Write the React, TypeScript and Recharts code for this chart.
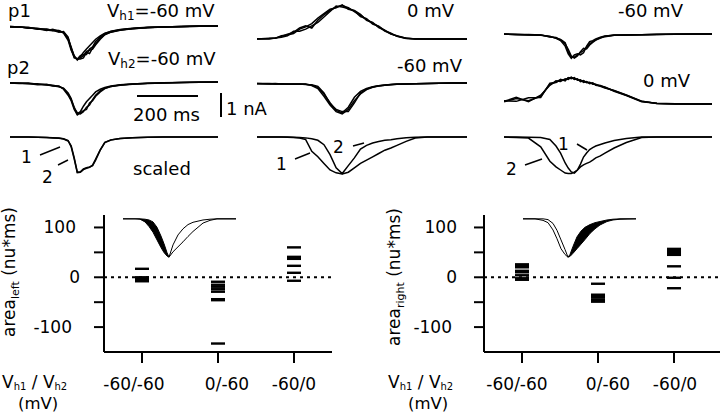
import React from 'react';
import { LineChart, Line, XAxis, YAxis, ScatterChart, Scatter, ReferenceLine, ComposedChart, Area } from 'recharts';

const FONT = '"DejaVu Sans", "Liberation Sans", sans-serif';

// ---------- top traces (time in ms, current in nA) ----------
const tLeft = [0, 30, 60, 90, 120, 140, 160, 175, 190, 200, 210, 220, 230, 240, 250, 260, 270, 280, 295, 310, 330, 360, 400, 450, 500, 560, 620, 680];
const p1LeftA = [-0.02, -0.05, -0.08, -0.12, -0.2, -0.15, -0.25, -0.28, -0.6, -1.0, -1.35, -1.55, -1.4, -1.2, -1.05, -0.9, -0.75, -0.6, -0.45, -0.33, -0.25, -0.17, -0.12, -0.07, -0.05, -0.02, 0, 0];
const p1LeftB = [-0.04, -0.03, -0.1, -0.1, -0.18, -0.22, -0.2, -0.3, -0.55, -0.95, -1.4, -1.5, -1.5, -1.45, -1.2, -1.25, -1.0, -0.8, -0.55, -0.38, -0.27, -0.18, -0.11, -0.07, -0.04, -0.02, -0.01, 0];
const p1LeftC = [-0.03, -0.06, -0.06, -0.15, -0.14, -0.2, -0.28, -0.25, -0.5, -1.05, -1.45, -1.5, -1.35, -1.3, -1.3, -1.05, -0.95, -0.7, -0.5, -0.35, -0.24, -0.16, -0.1, -0.06, -0.04, -0.02, 0, 0];
const p1LeftD = [-0.02, -0.04, -0.09, -0.13, -0.16, -0.18, -0.22, -0.32, -0.65, -1.1, -1.4, -1.52, -1.45, -1.35, -1.15, -1.1, -1.05, -0.85, -0.6, -0.4, -0.28, -0.19, -0.12, -0.08, -0.05, -0.03, -0.01, 0];
const p2LeftA = [-0.03, -0.06, -0.05, -0.1, -0.12, -0.15, -0.2, -0.3, -0.55, -0.8, -1.15, -1.45, -1.35, -1.1, -0.9, -0.75, -0.6, -0.45, -0.33, -0.25, -0.18, -0.13, -0.09, -0.06, -0.04, -0.02, -0.01, 0];
const p2LeftB = [-0.05, -0.04, -0.08, -0.08, -0.14, -0.17, -0.22, -0.28, -0.5, -0.75, -1.2, -1.4, -1.45, -1.35, -1.15, -1.05, -0.8, -0.6, -0.4, -0.28, -0.2, -0.14, -0.09, -0.06, -0.03, -0.02, 0, 0];
const p2LeftC = [-0.04, -0.07, -0.07, -0.12, -0.1, -0.18, -0.18, -0.33, -0.6, -0.85, -1.25, -1.5, -1.4, -1.3, -1.25, -0.95, -0.85, -0.65, -0.45, -0.3, -0.21, -0.15, -0.1, -0.07, -0.04, -0.02, -0.01, 0];
const scaledLeft1 = [0, 0, 0, -0.01, -0.02, -0.04, -0.06, -0.09, -0.18, -0.4, -0.95, -1.6, -1.58, -1.45, -1.4, -1.36, -1.3, -1.05, -0.6, -0.25, -0.14, -0.07, -0.03, -0.01, 0, 0, 0, 0];
const scaledLeft2 = [0, 0, 0, -0.01, -0.02, -0.03, -0.05, -0.08, -0.16, -0.45, -1.0, -1.62, -1.6, -1.48, -1.42, -1.38, -1.28, -1.0, -0.58, -0.24, -0.13, -0.07, -0.03, -0.01, 0, 0, 0, 0];

const tCenter = [0, 40, 60, 80, 100, 120, 140, 160, 180, 200, 220, 240, 260, 280, 300, 320, 340, 360, 380, 400, 420, 440, 460, 490, 520, 560, 600, 640, 690];
const p1CenterA = [0, 0.02, 0.05, 0.12, 0.22, 0.3, 0.5, 0.6, 0.5, 0.85, 1.1, 1.3, 1.45, 1.52, 1.42, 1.25, 1.08, 0.88, 0.72, 0.56, 0.36, 0.24, 0.13, 0.03, 0, 0, 0, 0, 0];
const p1CenterB = [0.01, 0, 0.04, 0.08, 0.15, 0.35, 0.35, 0.45, 0.6, 0.75, 1.0, 1.25, 1.5, 1.45, 1.38, 1.28, 1.02, 0.92, 0.68, 0.58, 0.38, 0.26, 0.12, 0.02, 0.01, 0, 0, 0, 0];
const p1CenterC = [0, 0.03, 0.03, 0.15, 0.18, 0.25, 0.45, 0.55, 0.7, 0.95, 1.15, 1.35, 1.42, 1.55, 1.35, 1.3, 1.12, 0.85, 0.75, 0.52, 0.4, 0.22, 0.15, 0.04, 0, 0, 0, 0, 0];
const p2CenterA = [-0.02, -0.03, -0.02, -0.04, -0.05, -0.04, -0.06, -0.05, -0.1, -0.2, -0.5, -0.9, -1.25, -1.36, -1.1, -0.65, -0.38, -0.25, -0.17, -0.12, -0.09, -0.07, -0.05, -0.04, -0.03, -0.02, -0.01, 0, 0];
const p2CenterB = [-0.03, -0.02, -0.04, -0.03, -0.06, -0.05, -0.04, -0.07, -0.08, -0.15, -0.45, -0.95, -1.2, -1.3, -1.3, -0.9, -0.45, -0.28, -0.18, -0.13, -0.1, -0.07, -0.06, -0.04, -0.03, -0.02, -0.01, 0, 0];
const p2CenterC = [-0.02, -0.04, -0.03, -0.05, -0.04, -0.06, -0.05, -0.06, -0.12, -0.25, -0.6, -1.0, -1.3, -1.4, -1.2, -0.8, -0.5, -0.3, -0.19, -0.14, -0.1, -0.08, -0.06, -0.04, -0.03, -0.02, -0.01, 0, 0];
const scaledCenter1 = [0, 0, 0, 0, -0.01, -0.02, -0.05, -0.12, -0.65, -0.9, -1.2, -1.5, -1.63, -1.68, -1.6, -1.4, -1.2, -1.05, -0.9, -0.75, -0.6, -0.5, -0.38, -0.2, -0.05, 0, 0, 0, 0];
const scaledCenter2 = [0, 0, 0, 0, 0, -0.01, -0.02, -0.04, -0.08, -0.15, -0.35, -0.8, -1.4, -1.66, -1.3, -0.95, -0.55, -0.38, -0.27, -0.2, -0.15, -0.12, -0.08, -0.03, -0.01, 0, 0, 0, 0];

const tRight = [0, 40, 80, 120, 150, 170, 185, 200, 210, 220, 230, 240, 250, 260, 270, 280, 290, 300, 315, 330, 360, 400, 450, 500, 560, 620, 680];
const p1RightA = [0, -0.02, -0.03, -0.05, -0.12, -0.18, -0.25, -0.4, -0.8, -1.05, -1.05, -0.95, -0.85, -0.75, -0.6, -0.45, -0.35, -0.27, -0.17, -0.1, -0.05, -0.05, -0.03, -0.02, -0.01, 0, 0];
const p1RightB = [-0.01, -0.01, -0.04, -0.06, -0.1, -0.2, -0.3, -0.55, -0.9, -1.1, -0.95, -0.9, -0.95, -0.85, -0.55, -0.35, -0.3, -0.22, -0.15, -0.09, -0.06, -0.04, -0.03, -0.02, 0, 0, 0];
const p1RightC = [0, -0.03, -0.02, -0.04, -0.14, -0.16, -0.28, -0.45, -0.7, -1.0, -1.1, -1.0, -0.8, -0.65, -0.68, -0.5, -0.38, -0.28, -0.18, -0.12, -0.06, -0.04, -0.03, -0.01, -0.01, 0, 0];
const p2RightA = [0.1, 0.25, 0.15, 0.35, 0.9, 1.0, 1.08, 1.1, 1.18, 1.2, 1.15, 1.12, 1.05, 1.03, 1.0, 0.96, 0.94, 0.88, 0.84, 0.75, 0.6, 0.4, 0.12, 0.02, 0, 0, 0];
const p2RightB = [0.15, 0.12, 0.28, 0.3, 0.95, 0.98, 1.12, 1.05, 1.2, 1.15, 1.2, 1.08, 1.1, 0.98, 1.02, 0.92, 0.96, 0.85, 0.82, 0.77, 0.58, 0.38, 0.1, 0.03, 0.01, 0, 0];
const p2RightC = [0.12, 0.3, 0.1, 0.4, 0.85, 1.05, 1.02, 1.15, 1.12, 1.22, 1.12, 1.15, 1.02, 1.06, 0.97, 0.99, 0.9, 0.9, 0.8, 0.73, 0.62, 0.41, 0.13, 0.02, 0, 0, 0];
const scaledRightWide = [0, -0.02, -0.05, -0.45, -1.1, -1.36, -1.5, -1.64, -1.66, -1.66, -1.6, -1.5, -1.36, -1.27, -1.2, -1.14, -1.05, -0.95, -0.86, -0.73, -0.5, -0.25, -0.02, 0, 0, 0, 0];
const scaledRightNarrow = [0, 0, -0.01, -0.02, -0.11, -0.41, -0.73, -1.18, -1.41, -1.59, -1.64, -1.5, -1.23, -0.91, -0.73, -0.57, -0.48, -0.41, -0.34, -0.27, -0.16, -0.07, 0, 0, 0, 0, 0];

// ---------- insets (normalised) ----------
const insetLeftT = [0, 12, 17, 22, 26, 30, 34, 38, 41, 44, 46, 50, 55, 60, 65, 70, 75, 80, 87, 94, 100, 113];
const insetLeftWide = [0, 0, -0.01, -0.08, -0.2, -0.35, -0.55, -0.75, -0.88, -0.97, -1.0, -0.86, -0.73, -0.6, -0.46, -0.33, -0.22, -0.11, -0.04, 0, 0, 0];
const insetLeftNarrow = [0, 0, 0, -0.01, -0.03, -0.08, -0.22, -0.45, -0.65, -0.88, -1.0, -0.68, -0.42, -0.26, -0.15, -0.09, -0.06, -0.03, -0.01, 0, 0, 0];
const insetRightT = [0, 12, 20, 25, 30, 34, 38, 42, 45, 47, 50, 54, 58, 62, 67, 72, 77, 84, 90, 97, 113];
const insetRightWide = [0, 0, -0.04, -0.1, -0.29, -0.52, -0.78, -0.93, -1.0, -0.98, -0.9, -0.78, -0.66, -0.54, -0.38, -0.26, -0.16, -0.07, -0.03, -0.01, 0];
const insetRightNarrow = [0, 0, 0, -0.02, -0.12, -0.3, -0.55, -0.8, -1.0, -0.93, -0.72, -0.47, -0.32, -0.22, -0.15, -0.1, -0.07, -0.03, -0.01, 0, 0];

// ---------- bottom scatter (area, nu*ms) ----------
const categories = ['-60/-60', '0/-60', '-60/0'];
const areaLeft6060 = [17, 0, -2, -4, -6, -8];
const areaLeft060 = [-9, -15, -19, -24, -29, -44, -46, -133];
const areaLeft600 = [60, 41, 37, 23, 9, -7];
const areaRight6060 = [26, 23, 20, 13, 10, 4, -2, -5];
const areaRight060 = [-13, -35, -38, -41, -46, -49];
const areaRight600 = [57, 53, 49, 45, 22, -1, -22];
const yTicks = [-100, -50, 0, 50, 100];
const yTickLabels = [-100, 0, 100];

const toRows = (t: number[], series: number[][]) =>
  t.map((tt, i) => {
    const r: Record<string, number> = { t: tt };
    series.forEach((s, k) => {
      r['s' + k] = s[i];
    });
    return r;
  });

function TracePanel({ left, baseline, width, tMax, t, series, sw = 1.5 }: any) {
  return (
    <div style={{ position: 'absolute', left, top: baseline - 44, width, height: 88 }}>
      <LineChart width={width} height={88} data={toRows(t, series)} margin={{ top: 0, right: 0, bottom: 0, left: 0 }}>
        <XAxis dataKey="t" type="number" domain={[0, tMax]} hide />
        <YAxis type="number" domain={[-2, 2]} hide />
        {series.map((_: number[], k: number) => (
          <Line key={k} dataKey={'s' + k} stroke="#000" strokeWidth={sw} dot={false} isAnimationActive={false} />
        ))}
      </LineChart>
    </div>
  );
}

function Inset({ left, t, wide, narrow, side }: any) {
  const minIdx = wide.indexOf(Math.min(...wide));
  const data = t.map((tt: number, i: number) => ({
    t: tt,
    w: wide[i],
    n: narrow[i],
    band: (side === 'left' ? i <= minIdx : i >= minIdx) ? [Math.min(wide[i], narrow[i]), Math.max(wide[i], narrow[i])] : null,
  }));
  return (
    <div style={{ position: 'absolute', left, top: 215 }}>
      <ComposedChart width={113} height={46} data={data} margin={{ top: 0, right: 0, bottom: 0, left: 0 }}>
        <XAxis dataKey="t" type="number" domain={[0, 113]} hide />
        <YAxis type="number" domain={[-1.1, 0.1]} hide />
        <Area dataKey="band" type="linear" stroke="none" fill="#000" fillOpacity={1} isAnimationActive={false} />
        <Line dataKey="w" type="linear" stroke="#000" strokeWidth={1} dot={false} isAnimationActive={false} />
        <Line dataKey="n" type="linear" stroke="#000" strokeWidth={1} dot={false} isAnimationActive={false} />
      </ComposedChart>
    </div>
  );
}

function DotPlot({ left, width, marginRight, xMax, groups, labelDx, yLabelDx }: any) {
  const data = groups.flatMap((g: number[], gi: number) => g.map((v) => ({ x: gi + 1, y: v })));
  const XTick = (p: any) => {
    const i = Math.round(p.payload.value) - 1;
    return (
      <g>
        <line x1={p.x} x2={p.x} y1={p.y} y2={p.y + 11} stroke="#000" strokeWidth={2} />
        <text x={p.x + labelDx[i]} y={p.y + 38} textAnchor="middle" fontSize={17} fontFamily={FONT} fill="#000">
          {categories[i]}
        </text>
      </g>
    );
  };
  const YTick = (p: any) => {
    const v = p.payload.value;
    const show = yTickLabels.includes(v);
    return (
      <g>
        <line x1={p.x - 10} x2={p.x} y1={p.y} y2={p.y} stroke="#000" strokeWidth={2} />
        {show && (
          <text x={p.x + yLabelDx[String(v)]} y={p.y + 6} textAnchor="end" fontSize={17} fontFamily={FONT} fill="#000">
            {v}
          </text>
        )}
      </g>
    );
  };
  const Dash = (p: any) => <rect x={p.cx - 7} y={p.cy - 1.2} width={14} height={2.4} fill="#000" />;
  return (
    <div style={{ position: 'absolute', left, top: 190 }}>
      <ScatterChart width={width} height={226} margin={{ top: 25, right: marginRight, bottom: 0, left: 0 }}>
        <XAxis
          dataKey="x"
          type="number"
          domain={[0.5, xMax]}
          ticks={[1, 2, 3]}
          interval={0}
          height={64}
          tick={XTick}
          tickLine={false}
          tickSize={0}
          tickMargin={0}
          axisLine={{ stroke: '#000', strokeWidth: 2 }}
        />
        <YAxis
          dataKey="y"
          type="number"
          domain={[-150, 125]}
          ticks={yTicks}
          interval={0}
          width={104}
          tick={YTick}
          tickLine={false}
          tickSize={0}
          tickMargin={0}
          axisLine={{ stroke: '#000', strokeWidth: 2 }}
        />
        <ReferenceLine y={0} stroke="#000" strokeWidth={2} strokeDasharray="3 4" />
        <Scatter data={data} shape={Dash} isAnimationActive={false} />
      </ScatterChart>
    </div>
  );
}

export default function App() {
  const T = { fontFamily: FONT, fill: '#000' } as any;
  return (
    <div style={{ position: 'fixed', left: 0, top: 0, width: 720, height: 416, background: '#fff', overflow: 'hidden' }}>
      {/* traces */}
      <TracePanel left={10} baseline={26} width={208} tMax={680} t={tLeft} series={[p1LeftA, p1LeftB, p1LeftC, p1LeftD]} />
      <TracePanel left={10} baseline={82} width={208} tMax={680} t={tLeft} series={[p2LeftA, p2LeftB, p2LeftC]} />
      <TracePanel left={10} baseline={137} width={208} tMax={680} t={tLeft} series={[scaledLeft1, scaledLeft2]} />
      <TracePanel left={257} baseline={39} width={210} tMax={690} t={tCenter} series={[p1CenterA, p1CenterB, p1CenterC]} />
      <TracePanel left={257} baseline={83} width={210} tMax={690} t={tCenter} series={[p2CenterA, p2CenterB, p2CenterC]} />
      <TracePanel left={257} baseline={137} width={210} tMax={690} t={tCenter} series={[scaledCenter1, scaledCenter2]} />
      <TracePanel left={504} baseline={34} width={208} tMax={680} t={tRight} series={[p1RightA, p1RightB, p1RightC]} />
      <TracePanel left={504} baseline={103.5} width={208} tMax={680} t={tRight} series={[p2RightA, p2RightB, p2RightC]} />
      <TracePanel left={504} baseline={137} width={208} tMax={680} t={tRight} series={[scaledRightWide, scaledRightNarrow]} />

      {/* bottom plots */}
      <DotPlot
        left={0}
        width={340}
        marginRight={8}
        xMax={3.5}
        groups={[areaLeft6060, areaLeft060, areaLeft600]}
        labelDx={[-8, 9, 0]}
        yLabelDx={{ '100': -28, '0': -24, '-100': -32 }}
      />
      <DotPlot
        left={380}
        width={340}
        marginRight={0}
        xMax={3.605}
        groups={[areaRight6060, areaRight060, areaRight600]}
        labelDx={[-5, 10, 1]}
        yLabelDx={{ '100': -27, '0': -27, '-100': -32 }}
      />
      <Inset left={123} t={insetLeftT} wide={insetLeftWide} narrow={insetLeftNarrow} side="left" />
      <Inset left={523} t={insetRightT} wide={insetRightWide} narrow={insetRightNarrow} side="right" />

      {/* labels and annotations */}
      <svg width={720} height={416} style={{ position: 'absolute', left: 0, top: 0, pointerEvents: 'none' }}>
        <text {...T} x={8} y={17} fontSize={18}>p1</text>
        <text {...T} x={107} y={17} fontSize={18}>
          V<tspan fontSize={12} dy={3}>h1</tspan>
          <tspan dy={-3}>=-60 mV</tspan>
        </text>
        <text {...T} x={7} y={74} fontSize={18}>p2</text>
        <text {...T} x={108} y={65} fontSize={18}>
          V<tspan fontSize={12} dy={3}>h2</tspan>
          <tspan dy={-3}>=-60 mV</tspan>
        </text>
        <text {...T} x={407} y={17} fontSize={18}>0 mV</text>
        <text {...T} x={397} y={72} fontSize={18}>-60 mV</text>
        <text {...T} x={618} y={17} fontSize={18}>-60 mV</text>
        <text {...T} x={643} y={87} fontSize={18}>0 mV</text>

        {/* scale bars */}
        <line x1={137} x2={198} y1={96} y2={96} stroke="#000" strokeWidth={2} />
        <line x1={221} x2={221} y1={93} y2={117} stroke="#000" strokeWidth={2} />
        <text {...T} x={133} y={121} fontSize={18}>200 ms</text>
        <text {...T} x={226} y={115} fontSize={18}>1 nA</text>

        {/* scaled row */}
        <text {...T} x={133} y={175} fontSize={18}>scaled</text>
        <text {...T} x={21} y={163} fontSize={17}>1</text>
        <line x1={40} y1={155} x2={60} y2={147} stroke="#000" strokeWidth={1.5} />
        <text {...T} x={42} y={183} fontSize={17}>2</text>
        <line x1={58} y1={165} x2={68} y2={160} stroke="#000" strokeWidth={1.5} />
        <text {...T} x={276} y={170} fontSize={17}>1</text>
        <line x1={295} y1={159} x2={310} y2={153} stroke="#000" strokeWidth={1.5} />
        <text {...T} x={333} y={153} fontSize={17}>2</text>
        <line x1={353} y1={146} x2={364} y2={143} stroke="#000" strokeWidth={1.5} />
        <text {...T} x={558} y={150} fontSize={17}>1</text>
        <line x1={577} y1={144} x2={587} y2={150} stroke="#000" strokeWidth={1.5} />
        <text {...T} x={506} y={175} fontSize={17}>2</text>
        <line x1={525} y1={165} x2={542} y2={159} stroke="#000" strokeWidth={1.5} />

        {/* axis titles */}
        <text {...T} x={15} y={272} fontSize={17} textAnchor="middle" transform="rotate(-90 15 272)">
          area<tspan fontSize={11} dy={4}>left</tspan>
          <tspan dy={-4}> (nu*ms)</tspan>
        </text>
        <text {...T} x={400} y={277} fontSize={17} textAnchor="middle" transform="rotate(-90 400 277)">
          area<tspan fontSize={11} dy={4}>right</tspan>
          <tspan dy={-4}> (nu*ms)</tspan>
        </text>
        <text {...T} x={2} y={388} fontSize={17}>
          V<tspan fontSize={10} dy={2}>h1</tspan>
          <tspan dy={-2}> / V</tspan>
          <tspan fontSize={10} dy={2}>h2</tspan>
        </text>
        <text {...T} x={18} y={409} fontSize={16.5}>(mV)</text>
        <text {...T} x={388} y={388} fontSize={17}>
          V<tspan fontSize={10} dy={2}>h1</tspan>
          <tspan dy={-2}> / V</tspan>
          <tspan fontSize={10} dy={2}>h2</tspan>
        </text>
        <text {...T} x={408} y={409} fontSize={16.5}>(mV)</text>
      </svg>
    </div>
  );
}
